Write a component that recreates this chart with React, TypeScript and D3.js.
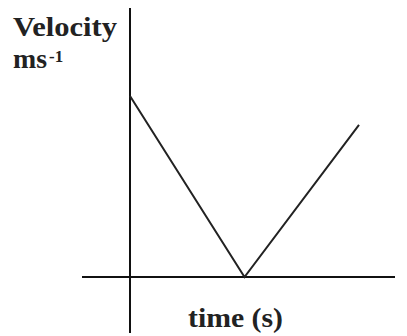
import React from 'react';
import * as d3 from 'd3';

// velocity–time graph: decelerate to rest, then accelerate again
const times = [0, 5, 10];
const velocities = [10, 0, 8.4];
const xLabel = 'time (s)';
const yLabel = 'Velocity';
const yUnit = 'ms';
const yUnitExp = '-1';

const W = 407;
const H = 336;

const App = () => {
  const x = d3.scaleLinear().domain([0, 10]).range([130, 359]);
  const y = d3.scaleLinear().domain([0, 10]).range([277, 96]);

  const line = d3
    .line<number>()
    .x((_, i) => x(times[i]))
    .y((v) => y(v));

  const font = '"Liberation Serif", "Times New Roman", serif';

  return (
    <svg
      width={W}
      height={H}
      viewBox={`0 0 ${W} ${H}`}
      style={{ position: 'absolute', left: 0, top: 0, background: '#fff' }}
    >
      {/* axes */}
      <line x1={x(0)} x2={x(0)} y1={8} y2={333} stroke="#111" strokeWidth={2} />
      <line x1={82} x2={395} y1={y(0)} y2={y(0)} stroke="#111" strokeWidth={2} />

      {/* the graph */}
      <path
        d={line(velocities) ?? ''}
        fill="none"
        stroke="#222"
        strokeWidth={2}
        strokeLinejoin="miter"
      />

      {/* labels */}
      <g fontFamily={font} fontWeight="bold" fill="#222">
        <text x={13} y={36} fontSize={27} textLength={104} lengthAdjust="spacingAndGlyphs">
          {yLabel}
        </text>
        <text x={13} y={68} fontSize={27} textLength={34} lengthAdjust="spacingAndGlyphs">
          {yUnit}
        </text>
        <text x={49} y={62} fontSize={17}>
          {yUnitExp}
        </text>
        <text x={188} y={327} fontSize={27} textLength={95} lengthAdjust="spacingAndGlyphs">
          {xLabel}
        </text>
      </g>
    </svg>
  );
};

export default App;
